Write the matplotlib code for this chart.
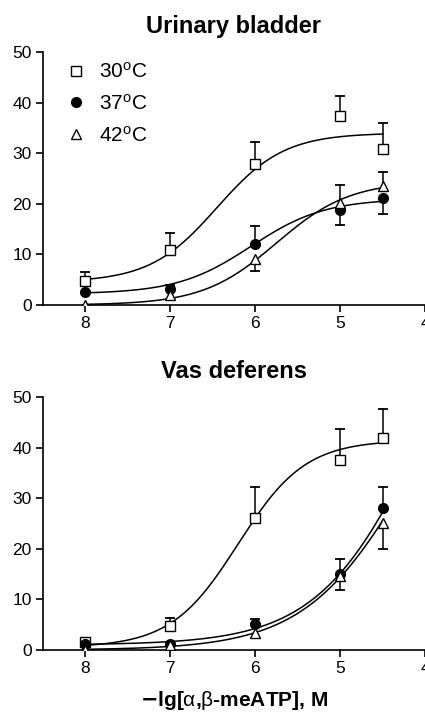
import numpy as np
import matplotlib
matplotlib.use('Agg')
import matplotlib.pyplot as plt

plt.rcParams['font.family'] = ['Liberation Sans', 'DejaVu Sans']
plt.rcParams['mathtext.fontset'] = 'custom'
plt.rcParams['mathtext.rm'] = 'Liberation Sans'
plt.rcParams['mathtext.it'] = 'Liberation Sans'

# concentrations (-lg M)
conc = [8, 7, 6, 5, 4.5]
labels = ['30$^{\\rm o}$C', '37$^{\\rm o}$C', '42$^{\\rm o}$C']

# Urinary bladder
ub_30 = [4.8, 10.8, 27.8, 37.4, 30.8]
ub_37 = [2.6, 3.2, 12.1, 18.8, 21.2]
ub_42 = [0.0, 1.9, 9.1, 20.2, 23.5]
ub_30_err = [1.7, 3.4, 4.5, 4.0, 5.1]      # drawn upward
ub_37_err = [0.0, 0.8, 3.5, -2.9, -3.3]    # negative = drawn downward
ub_42_err = [0.0, 0.0, -2.4, 3.6, 2.8]

# Vas deferens
vd_30 = [1.5, 4.8, 26.0, 37.6, 42.0]
vd_37 = [1.1, 1.1, 5.2, 15.0, 28.0]
vd_42 = [0.0, 0.9, 3.4, 14.7, 25.1]
vd_30_err = [0.0, 1.6, 6.2, 6.0, 5.6]
vd_37_err = [0.0, 0.0, 1.0, 2.9, 4.3]
vd_42_err = [0.0, 0.0, 0.0, -2.9, -5.2]

# fitted sigmoid parameters: bottom, top, pEC50, Hill slope
ub_fits = [(4.5, 34.0, 6.45, 1.1), (2.2, 21.0, 6.05, 1.0), (0.0, 24.5, 5.75, 1.0)]
vd_fits = [(0.5, 41.5, 6.2, 1.1), (1.0, 86.0, 4.0, 0.7), (0.0, 69.0, 4.17, 0.7)]


def hill(x, b, t, p, h):
    return b + (t - b) / (1 + 10 ** ((x - p) * h))


marker_kw = [dict(marker='s', ms=7, mfc='white', mec='black', mew=1.0),
             dict(marker='o', ms=7, mfc='black', mec='black', mew=1.0),
             dict(marker='^', ms=6.5, mfc='white', mec='black', mew=1.0)]

fig = plt.figure(figsize=(4.25, 7.15), dpi=100)
ax1 = fig.add_axes([0.101, 0.5734, 0.899, 0.3538])
ax2 = fig.add_axes([0.101, 0.0909, 0.899, 0.3538])


def draw(ax, series, errs, fits, title):
    xs = np.linspace(8, 4.5, 300)
    for f in fits:
        ax.plot(xs, hill(xs, *f), color='black', lw=1.1, zorder=2)
    handles = []
    for ys, es, mk, lab in zip(series, errs, marker_kw, labels):
        for x, y, e in zip(conc, ys, es):
            if e != 0:
                ax.plot([x, x], [y, y + e], color='black', lw=1.1, zorder=1)
                ax.plot([x], [y + e], marker='_', ms=7, mew=1.3, color='black', zorder=1)
        h, = ax.plot(conc, ys, ls='none', zorder=3, label=lab, **mk)
        handles.append(h)
    ax.set_xlim(8.5, 4.0)
    ax.set_ylim(0, 50)
    ax.set_xticks([8, 7, 6, 5, 4])
    ax.set_yticks([0, 10, 20, 30, 40, 50])
    ax.spines['top'].set_visible(False)
    ax.spines['right'].set_visible(False)
    for s in ['left', 'bottom']:
        ax.spines[s].set_linewidth(1.2)
    ax.tick_params(direction='out', length=5, width=1.2, labelsize=12.5, pad=3)
    ax.set_title(title, fontsize=17, fontweight='bold', pad=14)
    ax.patch.set_alpha(0)
    return handles


hs = draw(ax1, [ub_30, ub_37, ub_42], [ub_30_err, ub_37_err, ub_42_err], ub_fits, 'Urinary bladder')
draw(ax2, [vd_30, vd_37, vd_42], [vd_30_err, vd_37_err, vd_42_err], vd_fits, 'Vas deferens')

ax1.legend(handles=hs, loc='upper left', bbox_to_anchor=(0.01, 1.035), frameon=False,
           fontsize=15, handlelength=1.0, handletextpad=0.6, labelspacing=0.56,
           numpoints=1)

ax2.set_xlabel(r'$\mathbf{-}$lg[$\alpha$,$\beta$-meATP], M', fontsize=15, fontweight='bold', labelpad=9)

fig.savefig('out.png', dpi=100)
